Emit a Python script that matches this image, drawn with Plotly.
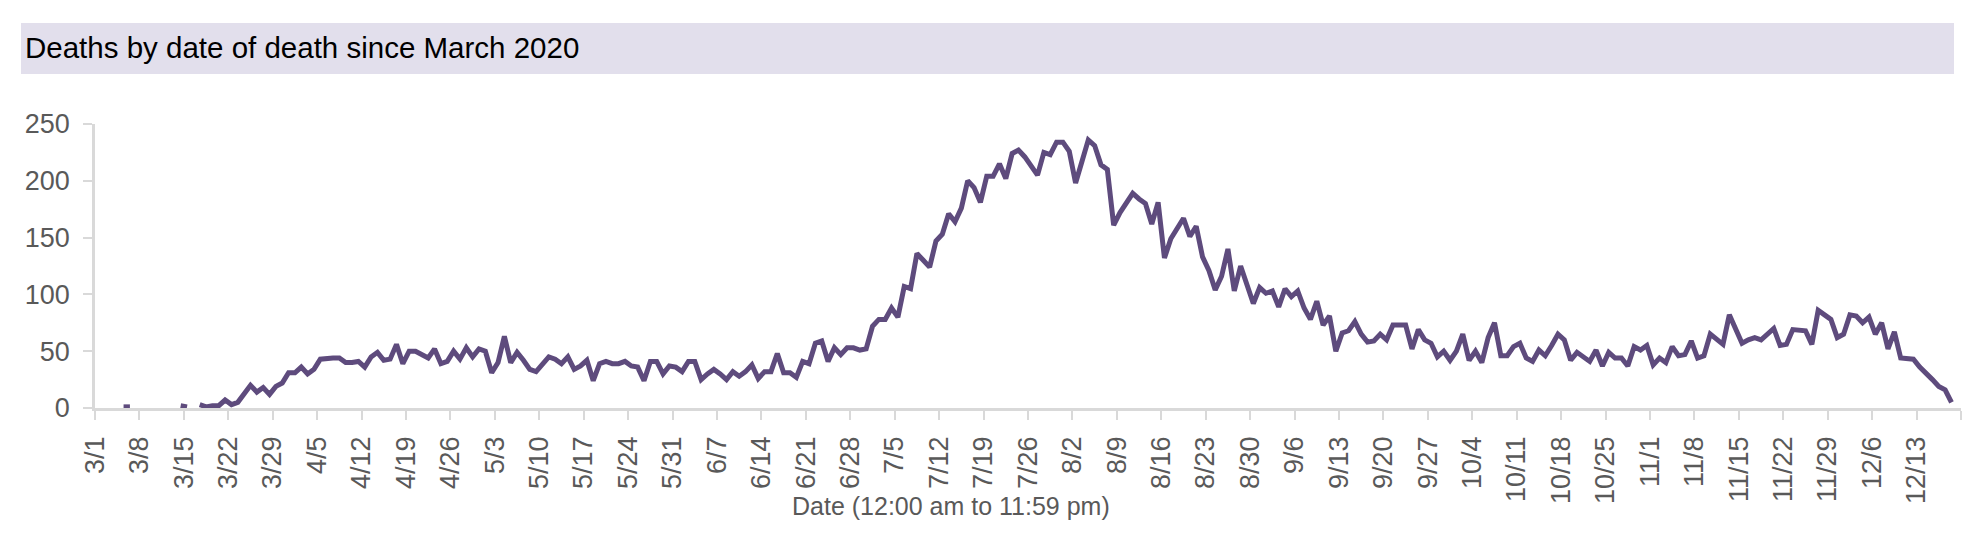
import pandas as pd
import plotly.graph_objects as go

# ---- data (daily deaths, by month; None = no value reported) ----
start_date = "2020-03-01"
deaths_mar = [None, None, None, None, 1, 1, None, None, None, None, None, None, None, 2, 1, None,
              3, 1, 2, 2, 7, 3, 5, 13, 20, 14, 18, 12, 19, 22, 31]
deaths_apr = [31, 36, 30, 34, 43, 44, 44, 44, 40, 40, 41, 36, 45, 49, 42, 43, 56, 39, 50, 50,
              47, 44, 52, 39, 41, 50, 43, 53, 45, 52]
deaths_may = [50, 31, 40, 63, 40, 49, 42, 34, 32, 39, 45, 43, 39, 45, 34, 37, 42, 24, 39, 41,
              39, 39, 41, 37, 36, 24, 41, 41, 30, 37, 36]
deaths_jun = [32, 41, 41, 25, 30, 34, 30, 25, 32, 28, 32, 38, 26, 32, 32, 48, 31, 31, 27, 41,
              39, 57, 59, 41, 53, 47, 53, 53, 51, 52]
deaths_jul = [72, 78, 78, 88, 80, 107, 105, 136, 130, 124, 147, 153, 171, 164, 176, 200, 194, 181,
              204, 204, 215, 202, 224, 227, 221, 213, 205, 225, 223, 234, 234]
deaths_aug = [226, 198, 217, 236, 231, 214, 210, 161, 172, 181, 189, 184, 180, 162, 181, 132, 149,
              158, 167, 151, 160, 133, 121, 104, 116, 140, 103, 125, 109, 92, 106]
deaths_sep = [101, 103, 89, 105, 98, 103, 88, 78, 94, 73, 81, 50, 66, 68, 76, 65, 58, 59, 65, 60,
              73, 73, 73, 52, 69, 60, 57, 45, 50, 42]
deaths_oct = [50, 65, 42, 50, 40, 62, 75, 46, 46, 54, 57, 44, 41, 51, 46, 55, 65, 60, 42, 49,
              45, 41, 51, 37, 49, 44, 44, 37, 54, 51, 55]
deaths_nov = [38, 44, 40, 54, 46, 47, 59, 44, 46, 65, 60, 56, 82, 69, 57, 60, 62, 60, 65, 70,
              55, 56, 69, 69, 68, 56, 86, 82, 78, 62]
deaths_dec = [65, 82, 81, 75, 80, 65, 75, 52, 67, 44, 43, 43, 36, 31, 25, 19, 16, 5]

axis_end_date = "2020-12-20"
last_label_date = "2020-12-13"
tick_step_days = 7
y_ticks = [0, 50, 100, 150, 200, 250]

title_text = "Deaths by date of death since March 2020"
x_title_text = "Date (12:00 am to 11:59 pm)"

deaths = (deaths_mar + deaths_apr + deaths_may + deaths_jun + deaths_jul + deaths_aug
          + deaths_sep + deaths_oct + deaths_nov + deaths_dec)
dates = pd.date_range(start_date, periods=len(deaths), freq="D")
x_points = dates + pd.Timedelta(hours=12)

tick_dates = list(pd.date_range(start_date, last_label_date, freq=f"{tick_step_days}D"))
tick_text = [f"{d.month}/{d.day}" for d in tick_dates]
tick_dates.append(pd.Timestamp(axis_end_date))
tick_text.append("")

# ---- layout geometry (pixels) ----
W, H = 1984, 533
L, R, T, B = 87, 31, 116, 133
pw, ph = W - L - R, H - T - B


def px(x):
    return (x - L) / pw


def py(y):
    return (H - B - y) / ph


AXIS_GREY = "#d9d9d9"
TEXT_GREY = "#595959"
LINE_COLOR = "#5e4b7d"
BASE_FONT = "Liberation Sans, Arial, sans-serif"

fig = go.Figure()
fig.add_trace(go.Scatter(
    x=x_points, y=deaths, mode="lines", connectgaps=False,
    line=dict(color=LINE_COLOR, width=5),
    hoverinfo="x+y", showlegend=False,
))

fig.update_layout(
    width=W, height=H,
    margin=dict(l=L, r=R, t=T, b=B, pad=0),
    paper_bgcolor="white", plot_bgcolor="white",
    showlegend=False,
    font=dict(family=BASE_FONT, color=TEXT_GREY),
    xaxis=dict(
        type="date",
        range=[start_date, axis_end_date],
        tickmode="array", tickvals=tick_dates, ticktext=tick_text,
        tickangle=-90,
        tickfont=dict(family=BASE_FONT, size=27, color=TEXT_GREY),
        ticks="outside", ticklen=9, tickwidth=2, tickcolor=AXIS_GREY,
        showline=True, linecolor=AXIS_GREY, linewidth=2.5,
        showgrid=False, zeroline=False,
        ticklabelstandoff=6,
    ),
    yaxis=dict(
        range=[0, 250],
        tickvals=y_ticks,
        tickfont=dict(family=BASE_FONT, size=27, color=TEXT_GREY),
        ticks="outside", ticklen=9, tickwidth=2, tickcolor=AXIS_GREY,
        showline=True, linecolor=AXIS_GREY, linewidth=2.5,
        showgrid=False, zeroline=False,
        ticklabelstandoff=8,
    ),
    shapes=[dict(
        type="rect", xref="paper", yref="paper",
        x0=px(13), x1=px(1946), y0=py(66), y1=py(15),
        fillcolor="#e2dfec", line=dict(width=0), layer="below",
    )],
    annotations=[
        dict(text=title_text, xref="paper", yref="paper", x=px(15), y=py(40),
             xanchor="left", yanchor="middle", showarrow=False,
             font=dict(family=BASE_FONT, size=29.5, color="#000000")),
        dict(text=x_title_text, xref="paper", yref="paper", x=px(943), y=py(498),
             xanchor="center", yanchor="middle", showarrow=False,
             font=dict(family=BASE_FONT, size=25, color=TEXT_GREY)),
    ],
)

fig.write_html("out.html")
